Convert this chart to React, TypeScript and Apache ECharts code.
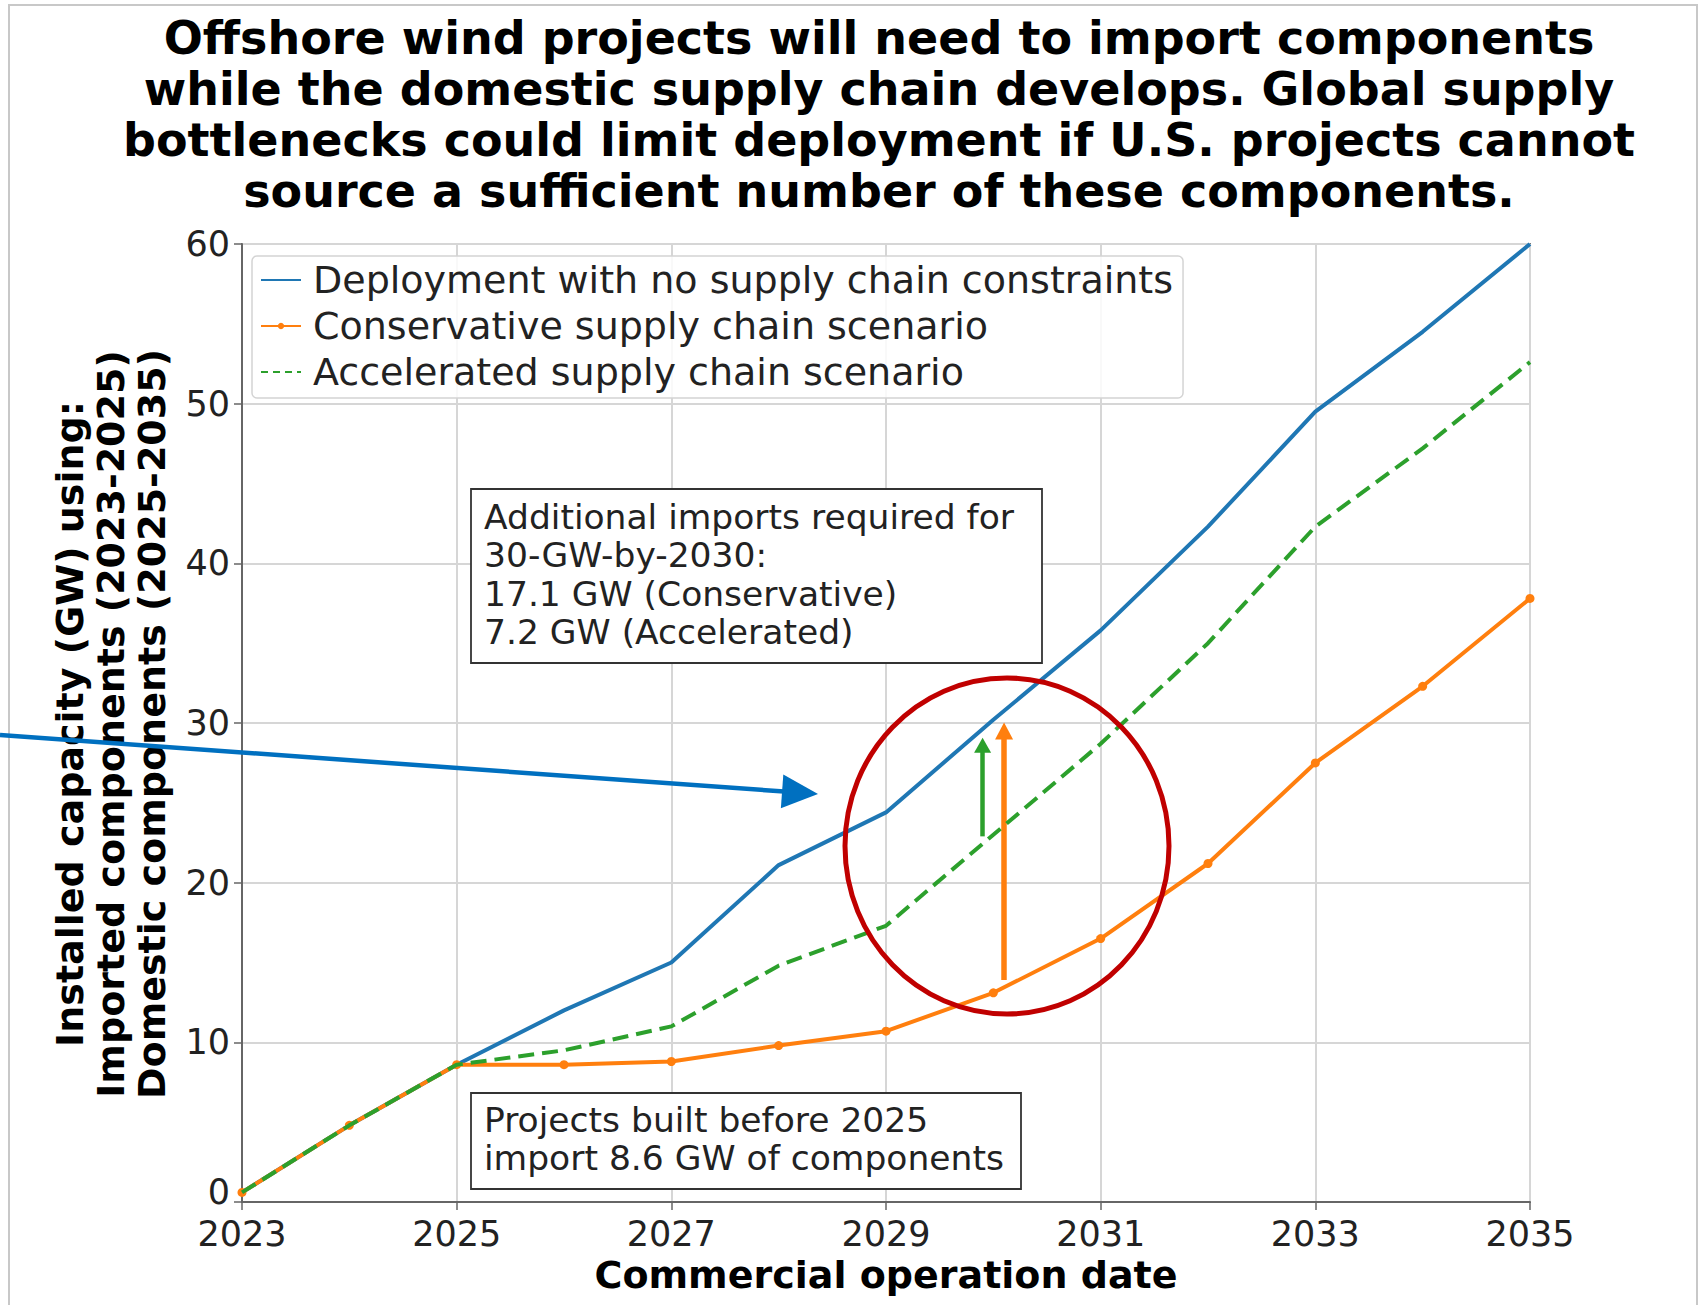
import React, { useEffect, useRef } from "react";
import * as echarts from "echarts";

// ---------- data ----------
const years = [2023, 2024, 2025, 2026, 2027, 2028, 2029, 2030, 2031, 2032, 2033, 2034, 2035];
const noConstraints = [0.6, 4.8, 8.6, 12.0, 15.0, 21.1, 24.4, 30.2, 35.8, 42.3, 49.5, 54.5, 60.0];
const conservative = [0.6, 4.8, 8.6, 8.6, 8.8, 9.8, 10.7, 13.1, 16.5, 21.2, 27.5, 32.3, 37.8];
const accelerated = [0.6, 4.8, 8.6, 9.5, 11.0, 14.8, 17.3, 23.0, 28.7, 35.0, 42.3, 47.2, 52.6];

const seriesNames = [
  "Deployment with no supply chain constraints",
  "Conservative supply chain scenario",
  "Accelerated supply chain scenario",
];
const xTickLabels = ["2023", "2025", "2027", "2029", "2031", "2033", "2035"];
const yTickLabels = ["0", "10", "20", "30", "40", "50", "60"];

// annotation arrows (year, from GW, to GW)
const arrowYears = [2029.9, 2030.1];
const arrowFrom = [22.9, 13.9];
const arrowTo = [28.6, 29.5];

const titleLines = [
  "Offshore wind projects will need to import components",
  "while the domestic supply chain develops. Global supply",
  "bottlenecks could limit deployment if U.S. projects cannot",
  "source a sufficient number of these components.",
];
const yTitleLines = [
  "Installed capacity (GW) using:",
  "Imported components (2023-2025)",
  "Domestic components (2025-2035)",
];
const box1Lines = [
  "Additional imports required for",
  "30-GW-by-2030:",
  "17.1 GW (Conservative)",
  "7.2 GW (Accelerated)",
];
const box2Lines = ["Projects built before 2025", "import 8.6 GW of components"];

const FONT = '"DejaVu Sans", "Noto Sans", sans-serif';
const BLUE = "#1f77b4";
const ORANGE = "#ff7f0e";
const GREEN = "#2ca02c";

const baseYear = years[0];
const toPairs = (vals: number[]) => years.map((y, i) => [y - baseYear, vals[i]]);

export default function App() {
  const ref = useRef<HTMLDivElement>(null);

  useEffect(() => {
    document.body.style.margin = "0";
    if (!ref.current) return;
    const chart = echarts.init(ref.current, null, { renderer: "svg" });

    const arrowLine = (i: number, color: string, width: number, head: number[]) => [
      {
        coord: [arrowYears[i] - baseYear, arrowFrom[i]],
        symbol: "none",
        lineStyle: { color, width, type: "solid" },
      },
      {
        coord: [arrowYears[i] - baseYear, arrowTo[i]],
        symbol: "triangle",
        symbolSize: head,
      },
    ];

    // blue pointer arrow geometry (overlay annotation)
    const tip = [818, 794];
    const start = [0, 735];
    const dx = tip[0] - start[0];
    const dy = tip[1] - start[1];
    const len = Math.sqrt(dx * dx + dy * dy);
    const ux = dx / len;
    const uy = dy / len;
    const headLen = 36;
    const headHalf = 17;
    const bx = tip[0] - ux * headLen;
    const by = tip[1] - uy * headLen;

    chart.setOption({
      animation: false,
      backgroundColor: "#ffffff",
      title: {
        text: titleLines.join("\n"),
        left: 879,
        top: 12,
        textAlign: "center",
        padding: 0,
        textStyle: {
          fontFamily: FONT,
          fontSize: 46,
          fontWeight: "bold",
          color: "#000",
          lineHeight: 51,
        },
      },
      grid: {
        left: 242,
        right: 169,
        top: 244,
        bottom: 103,
        show: true,
        borderColor: "#777",
        borderWidth: 2,
        backgroundColor: "transparent",
      },
      legend: {
        orient: "vertical",
        left: 252,
        top: 256,
        data: [
          { name: seriesNames[0], itemStyle: { opacity: 0 } },
          { name: seriesNames[1] },
          { name: seriesNames[2], itemStyle: { opacity: 0 }, lineStyle: { type: [7, 5], width: 2 } },
        ],
        itemWidth: 40,
        itemHeight: 8,
        itemGap: 8,
        padding: [5, 10, 7, 8],
        backgroundColor: "rgba(255,255,255,0.85)",
        borderColor: "#d4d4d4",
        borderWidth: 1.5,
        borderRadius: 5,
        lineStyle: { width: 2 },
        textStyle: {
          fontFamily: FONT,
          fontSize: 38,
          color: "#222",
          lineHeight: 38,
          padding: [0, 0, 0, 7],
        },
      },
      xAxis: {
        type: "value",
        min: 0,
        max: years.length - 1,
        interval: 2,
        name: "Commercial operation date",
        nameLocation: "middle",
        nameGap: 52,
        nameTextStyle: { fontFamily: FONT, fontSize: 38, fontWeight: "bold", color: "#000" },
        axisLine: { show: true, lineStyle: { color: "#666", width: 2 } },
        axisTick: { show: true, length: 8, lineStyle: { color: "#666", width: 1.5 } },
        axisLabel: {
          fontFamily: FONT,
          fontSize: 35,
          lineHeight: 26,
          color: "#222",
          margin: 19,
          formatter: (v: number) => xTickLabels[Math.round(v / 2)] ?? "",
        },
        splitLine: { show: true, lineStyle: { color: "#d6d6d6", width: 2 } },
      },
      yAxis: {
        type: "value",
        min: 0,
        max: 60,
        interval: 10,
        axisLine: { show: true, lineStyle: { color: "#666", width: 2 } },
        axisTick: { show: true, length: 8, lineStyle: { color: "#666", width: 1.5 } },
        axisLabel: {
          fontFamily: FONT,
          fontSize: 35,
          lineHeight: 26,
          color: "#222",
          margin: 12,
          formatter: (v: number) => {
            const s = yTickLabels[Math.round(v / 10)] ?? "";
            return v === 0 ? `{z|${s}}` : s;
          },
          rich: {
            z: {
              fontFamily: FONT,
              fontSize: 35,
              lineHeight: 26,
              color: "#222",
              padding: [0, 0, 20, 0],
            },
          },
        },
        splitLine: { show: true, lineStyle: { color: "#d6d6d6", width: 2 } },
      },
      series: [
        {
          name: seriesNames[0],
          type: "line",
          data: toPairs(noConstraints),
          symbol: "none",
          lineStyle: { color: BLUE, width: 4 },
          itemStyle: { color: BLUE },
          z: 3,
        },
        {
          name: seriesNames[1],
          type: "line",
          data: toPairs(conservative),
          symbol: "circle",
          symbolSize: 9,
          lineStyle: { color: ORANGE, width: 4 },
          itemStyle: { color: ORANGE },
          z: 4,
          markLine: {
            silent: true,
            animation: false,
            label: { show: false },
            data: [arrowLine(1, ORANGE, 5.5, [18, 17])],
            lineStyle: { color: ORANGE, width: 5.5, type: "solid" },
            itemStyle: { color: ORANGE },
            emphasis: { disabled: true },
          },
        },
        {
          name: seriesNames[2],
          type: "line",
          data: toPairs(accelerated),
          symbol: "none",
          lineStyle: { color: GREEN, width: 4, type: [16, 8] },
          itemStyle: { color: GREEN },
          z: 5,
          markLine: {
            silent: true,
            animation: false,
            label: { show: false },
            data: [arrowLine(0, GREEN, 4.5, [17, 15])],
            lineStyle: { color: GREEN, width: 4.5, type: "solid" },
            itemStyle: { color: GREEN },
            emphasis: { disabled: true },
          },
        },
      ],
      graphic: [
        // outer frame
        {
          type: "polyline",
          shape: { points: [[9, 1305], [9, 5], [1697, 5], [1697, 1305]] },
          style: { stroke: "#c8c8c8", lineWidth: 2, fill: "none" },
          silent: true,
          z: 1,
        },
        // y axis title
        {
          type: "text",
          x: 111,
          y: 724,
          rotation: Math.PI / 2,
          style: {
            text: yTitleLines.join("\n"),
            font: `bold 38px ${FONT}`,
            fill: "#000",
            align: "center",
            verticalAlign: "middle",
            textAlign: "center",
            textVerticalAlign: "middle",
            lineHeight: 40.6,
          },
          silent: true,
          z: 10,
        },
        // annotation box 1
        {
          type: "rect",
          shape: { x: 471, y: 489, width: 571, height: 174 },
          style: { fill: "#ffffff", stroke: "#333", lineWidth: 1.8 },
          silent: true,
          z: 10,
        },
        {
          type: "text",
          x: 484,
          y: 498,
          style: {
            text: box1Lines.join("\n"),
            font: `34.5px ${FONT}`,
            fill: "#222",
            align: "left",
            verticalAlign: "top",
            textAlign: "left",
            textVerticalAlign: "top",
            lineHeight: 38.3,
          },
          silent: true,
          z: 11,
        },
        // annotation box 2
        {
          type: "rect",
          shape: { x: 471, y: 1093, width: 550, height: 96 },
          style: { fill: "#ffffff", stroke: "#333", lineWidth: 1.8 },
          silent: true,
          z: 10,
        },
        {
          type: "text",
          x: 484,
          y: 1101,
          style: {
            text: box2Lines.join("\n"),
            font: `34.5px ${FONT}`,
            fill: "#222",
            align: "left",
            verticalAlign: "top",
            textAlign: "left",
            textVerticalAlign: "top",
            lineHeight: 38.3,
          },
          silent: true,
          z: 11,
        },
        // red highlight circle
        {
          type: "ellipse",
          shape: { cx: 1007, cy: 846, rx: 162, ry: 168 },
          style: { fill: "none", stroke: "#c00000", lineWidth: 5 },
          silent: true,
          z: 100,
        },
        // blue pointer arrow
        {
          type: "line",
          shape: { x1: start[0], y1: start[1], x2: bx + ux * 2, y2: by + uy * 2 },
          style: { stroke: "#0070c0", lineWidth: 4.5 },
          silent: true,
          z: 100,
        },
        {
          type: "polygon",
          shape: {
            points: [
              [tip[0], tip[1]],
              [bx - uy * headHalf, by + ux * headHalf],
              [bx + uy * headHalf, by - ux * headHalf],
            ],
          },
          style: { fill: "#0070c0" },
          silent: true,
          z: 100,
        },
      ],
    });

    return () => chart.dispose();
  }, []);

  return <div ref={ref} style={{ width: 1699, height: 1305 }} />;
}
